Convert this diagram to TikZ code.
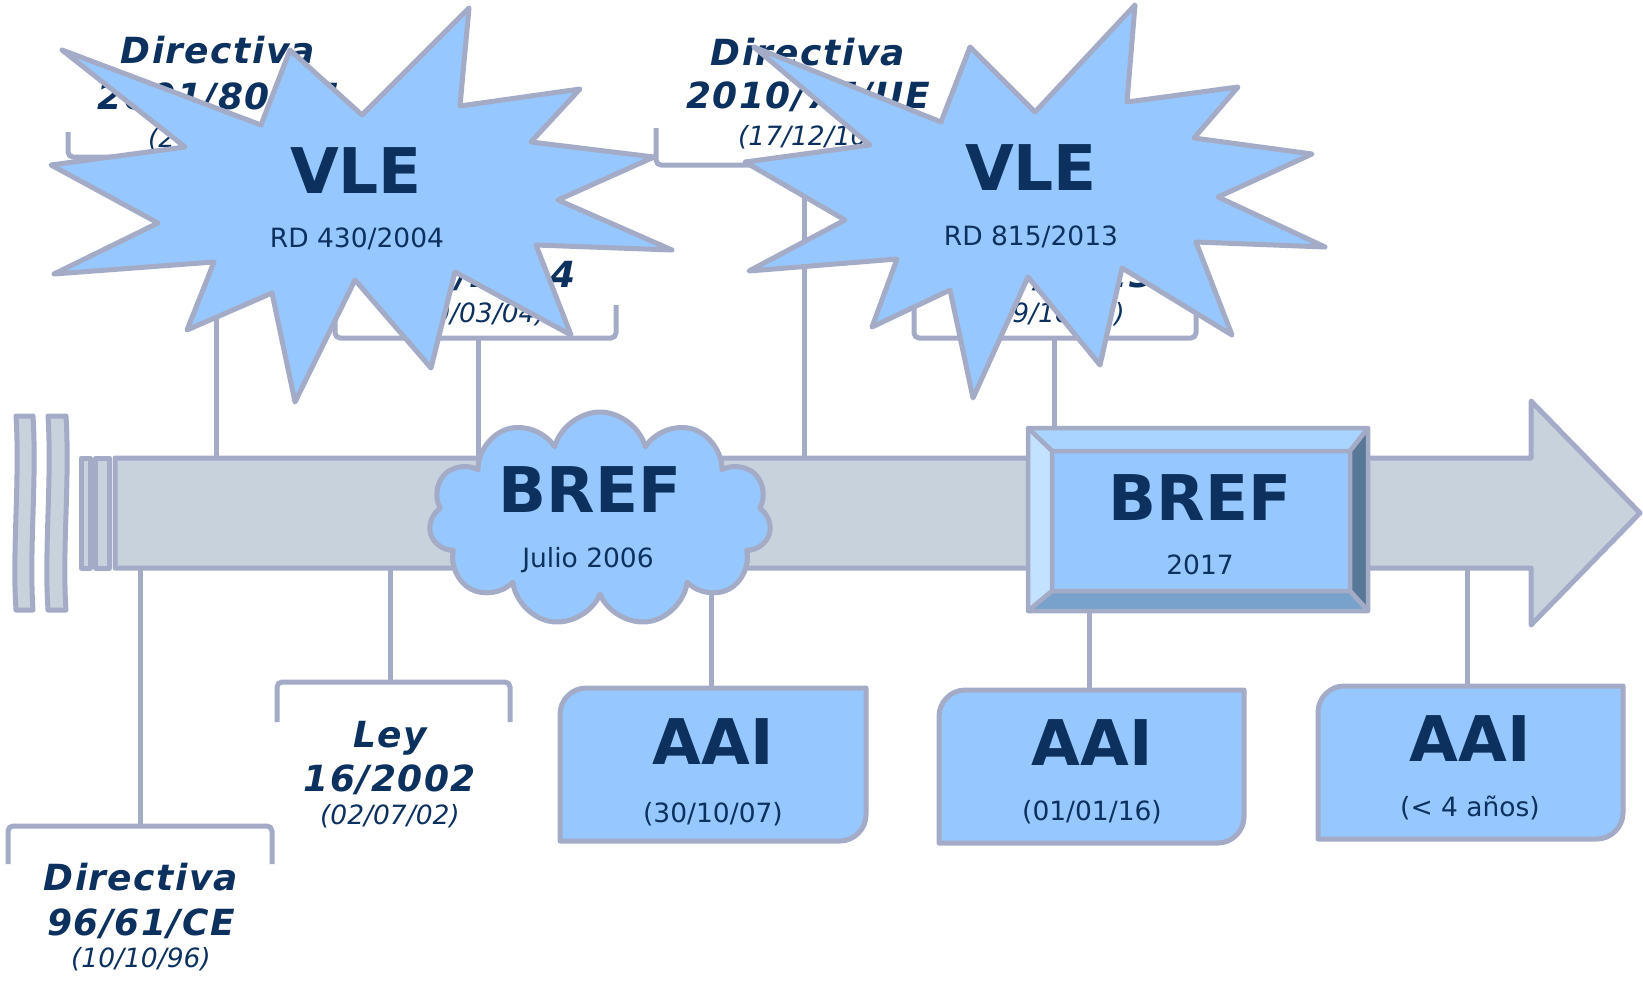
\documentclass[tikz,border=0pt]{standalone}
\usepackage{fontspec}
\setmainfont{DejaVu Sans}
\usetikzlibrary{shapes.symbols}
\definecolor{navy}{RGB}{12,49,94}
\definecolor{edge}{RGB}{163,171,199}
\definecolor{barfill}{RGB}{199,210,221}
\definecolor{sky}{RGB}{150,199,255}
\definecolor{bevtop}{RGB}{168,212,255}
\definecolor{bevleft}{RGB}{194,226,255}
\definecolor{bevright}{RGB}{88,120,152}
\definecolor{bevbot}{RGB}{120,162,204}
\begin{document}
\begin{tikzpicture}[x=1pt,y=-1pt,line join=round,
  outl/.style={draw=edge,line width=5pt},
  conn/.style={draw=edge,line width=5pt},
  brk/.style={draw=edge,line width=5pt,rounded corners=5pt},
  big/.style={font=\fontsize{63}{63}\selectfont\bfseries,text=navy,inner sep=0pt,anchor=base},
  small/.style={font=\fontsize{26.5}{30}\selectfont,text=navy,inner sep=0pt,anchor=base},
  lab/.style={font=\fontsize{36}{40}\selectfont\bfseries\itshape\addfontfeature{LetterSpace=4},text=navy,inner sep=0pt,anchor=base},
  dat/.style={font=\fontsize{26.5}{30}\selectfont\itshape,text=navy,inner sep=0pt,anchor=base}]
\useasboundingbox (0,0) rectangle (1643,980);

% ---- timeline bar ----
\filldraw[outl,fill=barfill] (16,416) .. controls (20,480) and (12,550) .. (16,610) -- (33,610) .. controls (29,550) and (37,480) .. (33,416) -- cycle;
\filldraw[outl,fill=barfill] (48,416) .. controls (52,480) and (44,550) .. (48,610) -- (66,610) .. controls (62,550) and (70,480) .. (66,416) -- cycle;
\filldraw[outl,fill=barfill] (81.5,458) rectangle (90,568);
\filldraw[outl,fill=barfill] (95.5,458) rectangle (109.5,568);
\filldraw[outl,fill=barfill] (115,458) -- (1531,458) -- (1531,401) -- (1640,513) -- (1531,625) -- (1531,568) -- (115,568) -- cycle;

% ---- named points ----
\coordinate (b1) at (216,157);   \coordinate (t1) at (216,458);
\coordinate (b3) at (478,338);   \coordinate (t3) at (478,458);
\coordinate (b2) at (804,165);   \coordinate (t2) at (804,458);
\coordinate (b4) at (1054,338);  \coordinate (bref2top) at (1054,428);
\coordinate (d5) at (140,568);   \coordinate (b5) at (140,826);
\coordinate (d6) at (390,568);   \coordinate (b6) at (390,682);
\coordinate (d7) at (711,560);   \coordinate (aai1top) at (711,688);
\coordinate (bref2bot) at (1089,611); \coordinate (aai2top) at (1089,690);
\coordinate (d9) at (1467,568);  \coordinate (aai3top) at (1467,686);

% ---- connectors ----
\draw[conn] (b1) -- (t1);
\draw[conn] (b3) -- (t3);
\draw[conn] (b2) -- (t2);
\draw[conn] (b4) -- (bref2top);
\draw[conn] (d5) -- (b5);
\draw[conn] (d6) -- (b6);
\draw[conn] (d7) -- (aai1top);
\draw[conn] (bref2bot) -- (aai2top);
\draw[conn] (d9) -- (aai3top);

% ---- brackets ----
\draw[brk] (68,132) -- (68,157) -- (364,157) -- (364,132);
\draw[brk] (656,128) -- (656,165) -- (952,165) -- (952,128);
\draw[brk] (335,305) -- (335,338) -- (616,338) -- (616,305);
\draw[brk] (914,307) -- (914,338) -- (1196,338) -- (1196,307);
\draw[brk] (8,864) -- (8,826) -- (272,826) -- (272,864);
\draw[brk] (277,722) -- (277,682) -- (510,682) -- (510,722);

% ---- bracket labels ----
\node[lab] (l1a) at (218,63) {Directiva};
\node[lab] (l1b) at (218,109) {2001/80/CE};
\node[dat] (l1c) at (218,147) {(27/11/01)};
\node[lab] (l2a) at (808,65) {Directiva};
\node[lab] (l2b) at (808,108) {2010/75/UE};
\node[dat] (l2c) at (808,145) {(17/12/10)};
\node[lab] (l3b) at (476,287) {430/2004};
\node[dat] (l3c) at (476,322) {(20/03/04)};
\node[lab] (l4b) at (1055,287) {815/2013};
\node[dat] (l4c) at (1055,322) {(19/10/13)};
\node[lab] (l5a) at (141,890) {Directiva};
\node[lab] (l5b) at (141,935) {96/61/CE};
\node[dat] (l5c) at (141,967) {(10/10/96)};
\node[lab] (l6a) at (390,747) {Ley};
\node[lab] (l6b) at (390,791) {16/2002};
\node[dat] (l6c) at (390,824) {(02/07/02)};

% ---- BREF cloud ----
\node[cloud,cloud puffs=11,aspect=1.6,draw=edge,line width=5pt,fill=sky,
      minimum width=342pt,minimum height=214pt,inner sep=0pt] (cloud) at (600,519) {};
\node[big] (bref1) at (590,512) {BREF};
\node[small] (bref1d) at (588,567) {Julio 2006};

% ---- BREF 2017 bevel box ----
\filldraw[outl,line width=4.5pt,fill=sky] (1052,451) rectangle (1350,591);
\filldraw[outl,line width=4.5pt,fill=bevtop] (1028,428) -- (1368,428) -- (1350,451) -- (1052,451) -- cycle;
\filldraw[outl,line width=4.5pt,fill=bevleft] (1028,428) -- (1052,451) -- (1052,591) -- (1028,611) -- cycle;
\filldraw[outl,line width=4.5pt,fill=bevright] (1368,428) -- (1368,611) -- (1350,591) -- (1350,451) -- cycle;
\filldraw[outl,line width=4.5pt,fill=bevbot] (1028,611) -- (1368,611) -- (1350,591) -- (1052,591) -- cycle;
\node[big] (bref2) at (1200,520) {BREF};
\node[small] (bref2d) at (1200,574) {2017};

% ---- AAI boxes ----
\filldraw[outl,fill=sky] (560,841) -- (560,714) .. controls (560,700) and (572,688) .. (586,688) -- (866,688) -- (866,815) .. controls (866,829) and (854,841) .. (840,841) -- cycle;
\node[big] (aai1) at (713,764) {AAI};
\node[small] (aai1d) at (713,822) {(30/10/07)};
\filldraw[outl,fill=sky] (939,843) -- (939,716) .. controls (939,702) and (951,690) .. (965,690) -- (1244,690) -- (1244,817) .. controls (1244,831) and (1232,843) .. (1218,843) -- cycle;
\node[big] (aai2) at (1092,765) {AAI};
\node[small] (aai2d) at (1092,820) {(01/01/16)};
\filldraw[outl,fill=sky] (1318,839) -- (1318,712) .. controls (1318,698) and (1330,686) .. (1344,686) -- (1623,686) -- (1623,813) .. controls (1623,827) and (1611,839) .. (1597,839) -- cycle;
\node[big] (aai3) at (1470,761) {AAI};
\node[small] (aai3d) at (1470,816) {(< 4 años)};

% ---- VLE stars ----
\filldraw[outl,fill=sky] (62,50) -- (261,125) -- (290,50) -- (362,115) -- (469,8) -- (460,106) -- (580,89) -- (531,142) -- (654,157) -- (558,200) -- (672,250) -- (536,245) -- (571,335) -- (455,272) -- (431,368) -- (355,280) -- (295,402) -- (272,293) -- (187,330) -- (214,262) -- (54,274) -- (158,223) -- (51,165) -- (185,147) -- cycle;
\node[big] (vle1) at (356,193) {VLE};
\node[small] (vle1d) at (357,247) {RD 430/2004};
\filldraw[outl,fill=sky] (754,47) -- (941,122) -- (970,47) -- (1035,112) -- (1135,5) -- (1127,102) -- (1238,87) -- (1194,138) -- (1312,154) -- (1218,197) -- (1325,247) -- (1196,242) -- (1232,335) -- (1122,268) -- (1100,365) -- (1028,277) -- (973,398) -- (950,290) -- (872,327) -- (897,259) -- (749,271) -- (845,220) -- (745,162) -- (870,145) -- cycle;
\node[big] (vle2) at (1031,190) {VLE};
\node[small] (vle2d) at (1031,245) {RD 815/2013};
\end{tikzpicture}
\end{document}
